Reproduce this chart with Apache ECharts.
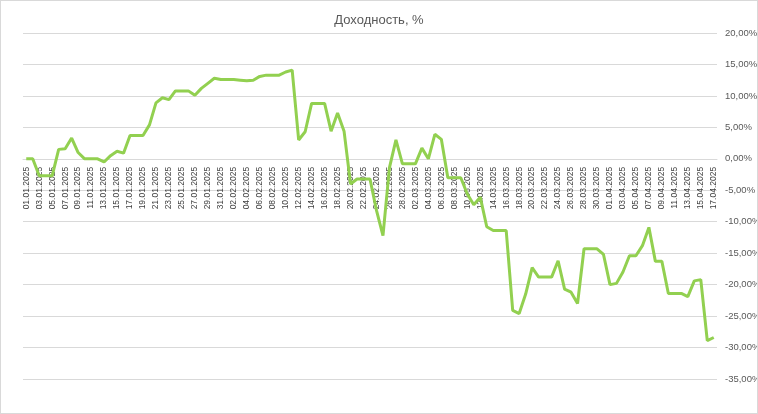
<!DOCTYPE html>
<html>
<head>
<meta charset="utf-8">
<script src="https://cdn.jsdelivr.net/npm/echarts@6/dist/echarts.min.js"></script>
<style>
  html, body { margin: 0; padding: 0; background: #fff; }
  #chart { width: 756px; height: 412px; border: 1px solid #d9d9d9; }
</style>
</head>
<body>
<div id="chart"></div>
<script>
// доходность по дням, %
var startDate = [2025, 0, 1];
var values = [
  0, 0, -2.7, -2.7, -2.7, 1.5, 1.6, 3.3, 1.0, 0,
  0, 0, -0.5, 0.5, 1.2, 0.9, 3.7, 3.7, 3.7, 5.4,
  8.9, 9.7, 9.4, 10.8, 10.8, 10.8, 10.1, 11.2, 12.0, 12.8,
  12.6, 12.6, 12.6, 12.5, 12.4, 12.5, 13.1, 13.3, 13.3, 13.3,
  13.8, 14.1, 3.0, 4.3, 8.8, 8.8, 8.8, 4.4, 7.3, 4.4,
  -4.0, -3.2, -3.2, -3.2, -8.2, -12.2, -1.4, 3.0, -0.8, -0.8,
  -0.8, 1.7, 0, 3.9, 3.1, -3.0, -3.0, -3.0, -5.6, -7.3,
  -6.1, -10.8, -11.4, -11.4, -11.4, -24.1, -24.6, -21.5, -17.3, -18.8,
  -18.8, -18.8, -16.2, -20.7, -21.2, -23.0, -14.3, -14.3, -14.3, -15.2,
  -20.0, -19.8, -18.0, -15.4, -15.4, -13.8, -10.9, -16.3, -16.3, -21.4,
  -21.4, -21.4, -21.9, -19.4, -19.2, -28.9, -28.4
];
var yMin = -35, yMax = 20, yStep = 5;

function pad(n) { return (n < 10 ? '0' : '') + n; }
var dates = values.map(function (v, i) {
  var d = new Date(startDate[0], startDate[1], startDate[2] + i);
  return pad(d.getDate()) + '.' + pad(d.getMonth() + 1) + '.' + d.getFullYear();
});

var chart = echarts.init(document.getElementById('chart'));
chart.setOption({
  animation: false,
  title: {
    text: 'Доходность, %',
    left: 'center',
    top: 8,
    textStyle: { color: '#595959', fontSize: 13, fontWeight: 'normal', fontFamily: 'Liberation Sans' }
  },
  grid: { left: 22, right: 40, top: 32, bottom: 34, outerBoundsMode: 'none', containLabel: false },
  xAxis: {
    type: 'category',
    data: dates,
    boundaryGap: true,
    axisLine: { onZero: false, lineStyle: { color: '#d9d9d9' } },
    axisTick: { show: false },
    axisLabel: {
      interval: 1,
      rotate: 90,
      fontSize: 8.5,
      color: '#404040',
      fontFamily: 'Liberation Sans'
    }
  },
  yAxis: {
    type: 'value',
    position: 'right',
    min: yMin,
    max: yMax,
    interval: yStep,
    axisLine: { show: false },
    axisTick: { show: false },
    splitLine: { lineStyle: { color: '#d9d9d9' } },
    axisLabel: {
      fontSize: 9.5,
      color: '#595959',
      fontFamily: 'Liberation Sans',
      formatter: function (v) { return v.toFixed(2).replace('.', ',') + '%'; }
    }
  },
  series: [{
    type: 'line',
    data: values,
    symbol: 'none',
    lineStyle: { color: '#92d050', width: 3 }
  }]
});
// move the category axis up onto the zero line
var zeroY = chart.convertToPixel({ yAxisIndex: 0 }, 0);
var bottomY = chart.convertToPixel({ yAxisIndex: 0 }, yMin);
chart.setOption({ xAxis: { offset: zeroY - bottomY } });
</script>
</body>
</html>
